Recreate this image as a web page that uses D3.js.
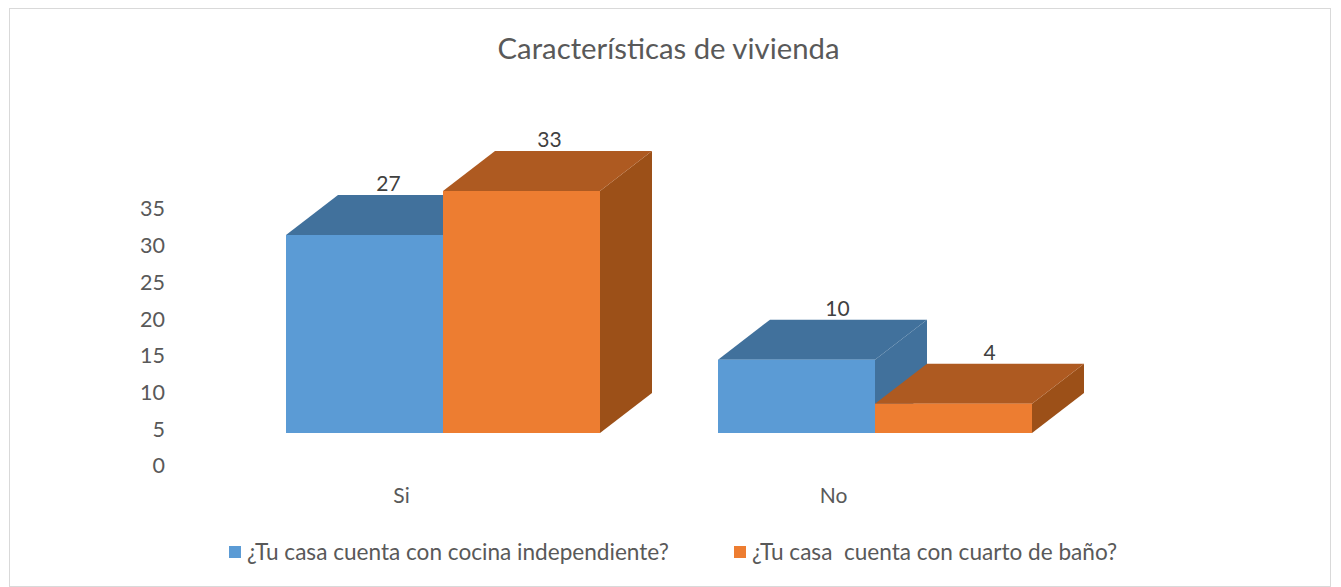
<meta charset="utf-8">
<style>
body { margin: 0; background: #fff; }
svg text { font-family: Lato, "Open Sans", sans-serif; fill: #595959; }
.tick text { font-family: Lato, "Open Sans", sans-serif; font-size: 21.5px; fill: #595959; }
</style>
<body></body>
<script src="https://d3js.org/d3.v7.min.js"></script>
<script>
var categories = ["Si", "No"];
var seriesNames = ["¿Tu casa cuenta con cocina independiente?", "¿Tu casa  cuenta con cuarto de baño?"];
var cocina = [27, 10];
var bano = [33, 4];
var ticks = [0, 5, 10, 15, 20, 25, 30, 35];
var colors = ["#5b9bd5", "#ed7d31"];
var topColors = ["#41719c", "#ae5a21"];
var sideColors = ["#41719c", "#9c5018"];

var svg = d3.select("body").append("svg")
  .attr("width", 1341)
  .attr("height", 587)
  .style("display", "block");

svg.append("rect")
  .attr("x", 9.5).attr("y", 8.5)
  .attr("width", 1321).attr("height", 578)
  .attr("fill", "#fff").attr("stroke", "#d9d9d9");

svg.append("text")
  .attr("x", 668.5).attr("y", 59)
  .attr("text-anchor", "middle")
  .style("font-size", "29.3px")
  .text("Características de vivienda");

// axis is printed lower than the bars' floor, the 3d chart has its own scale for the bars
var y = d3.scaleLinear().domain([0, 35]).range([466, 209]);
var barY = d3.scaleLinear().domain([0, 33]).range([433, 191]);
var x = d3.scaleBand().domain(categories).range([227, 1091]);
var barWidth = 157, dx = 52, dy = 40;

svg.append("g")
  .attr("transform", "translate(172,0)")
  .call(d3.axisLeft(y).tickValues(ticks).tickSize(0).tickPadding(7))
  .call(function(g) { g.select(".domain").remove(); });

var bars = [];
categories.forEach(function(c, i) {
  bars.push({ cat: c, s: 0, value: cocina[i] });
  bars.push({ cat: c, s: 1, value: bano[i] });
});

var labelShift = [24, 28, 41, 36];

bars.forEach(function(d, i) {
  var x0 = x(d.cat) + x.bandwidth() / 2 + (d.s - 1) * barWidth;
  var x1 = x0 + barWidth;
  var top = barY(d.value);
  var bottom = barY(0);
  var g = svg.append("g");
  g.append("path")
    .attr("d", d3.line()([[x1, top], [x1 + dx, top - dy], [x1 + dx, bottom - dy], [x1, bottom]]))
    .attr("fill", sideColors[d.s]);
  g.append("path")
    .attr("d", d3.line()([[x0, top], [x0 + dx, top - dy], [x1 + dx, top - dy], [x1, top]]))
    .attr("fill", topColors[d.s]);
  g.append("rect")
    .attr("x", x0).attr("y", top)
    .attr("width", barWidth).attr("height", bottom - top)
    .attr("fill", colors[d.s]);
  g.append("text")
    .attr("x", x0 + barWidth / 2 + labelShift[i])
    .attr("y", top - dy - 4)
    .attr("text-anchor", "middle")
    .style("font-size", "21px")
    .style("fill", "#404040")
    .text(d.value);
});

svg.selectAll(".cat-label")
  .data(categories)
  .enter().append("text")
  .attr("x", function(d) { return x(d) + x.bandwidth() / 2 - 41.5; })
  .attr("y", 503)
  .attr("text-anchor", "middle")
  .style("font-size", "21px")
  .text(String);

var legendX = [229, 734];
seriesNames.forEach(function(n, i) {
  svg.append("rect")
    .attr("x", legendX[i]).attr("y", 546)
    .attr("width", 12).attr("height", 12)
    .attr("fill", colors[i]);
  svg.append("text")
    .attr("x", legendX[i] + 18).attr("y", 560)
    .style("font-size", "22.6px")
    .style("white-space", "pre")
    .text(n);
});
</script>
